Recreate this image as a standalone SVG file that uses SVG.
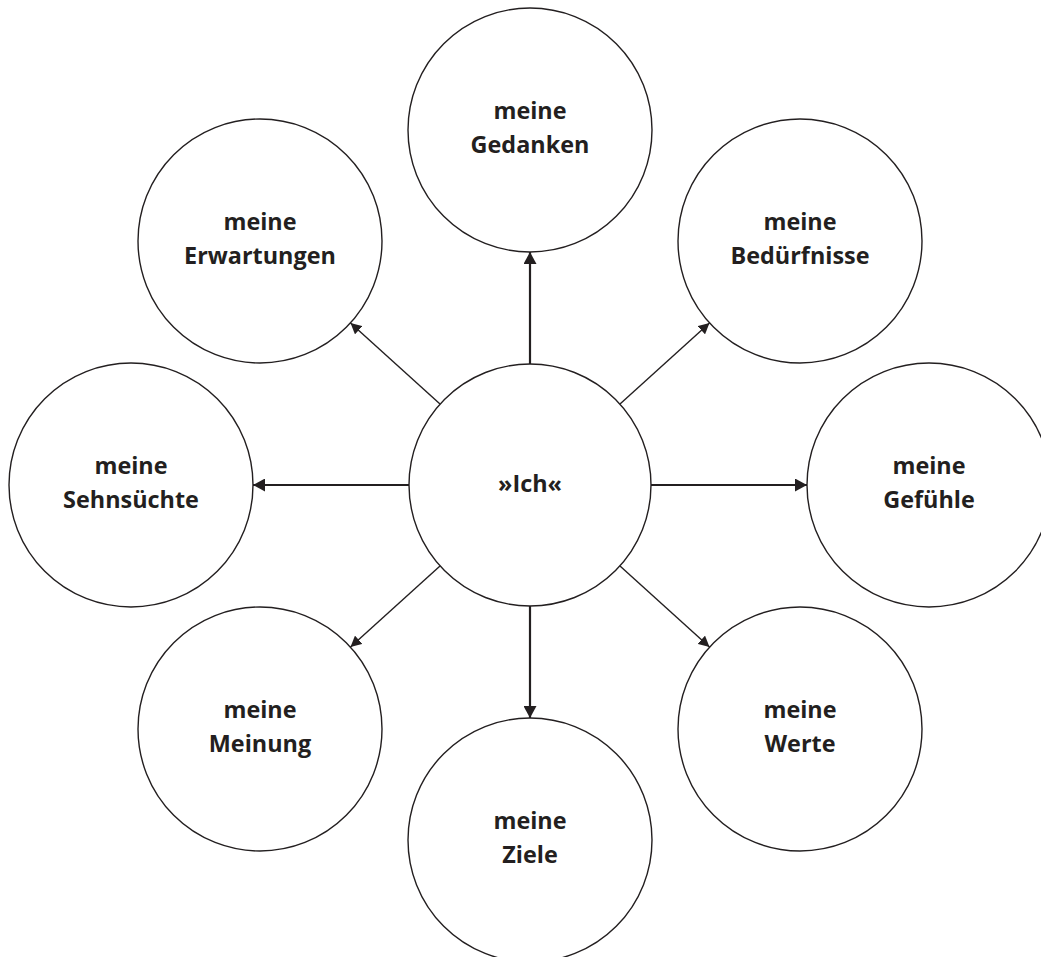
<svg xmlns="http://www.w3.org/2000/svg" width="1041" height="957" viewBox="0 0 1041 957">
<defs>
<style>
.node circle{fill:#fff;stroke:#231f20;stroke-width:1.4}
.node text{font-family:"Open Sans","Noto Sans","DejaVu Sans",sans-serif;font-weight:700;font-size:23.4px;fill:#231f20;text-anchor:middle}
.conn line{stroke:#231f20;fill:none}
.ortho{stroke-width:2.2}
.diag{stroke-width:1.4}
</style>
<marker id="ah" viewBox="0 0 12 13" markerWidth="12" markerHeight="13" refX="12" refY="6.5" orient="auto" markerUnits="userSpaceOnUse">
<path d="M0,0 L12,6.5 L0,13 Z" fill="#231f20"/>
</marker>
<marker id="ahs" viewBox="0 0 12 12" markerWidth="11" markerHeight="11" refX="12" refY="6" orient="auto" markerUnits="userSpaceOnUse">
<path d="M0,0 L12,6 L0,12 Z" fill="#231f20"/>
</marker>
</defs>
<rect width="1041" height="957" fill="#fff"/>
<g id="connectors" class="conn">
<line class="ortho" x1="530" y1="364" x2="530" y2="252" marker-end="url(#ah)"/>
<line class="ortho" x1="530" y1="606" x2="530" y2="718" marker-end="url(#ah)"/>
<line class="ortho" x1="651" y1="485" x2="807" y2="485" marker-end="url(#ah)"/>
<line class="ortho" x1="409" y1="485" x2="253" y2="485" marker-end="url(#ah)"/>
<line class="diag" x1="620" y1="404" x2="709.5" y2="322.9" marker-end="url(#ahs)"/>
<line class="diag" x1="620" y1="566" x2="709.5" y2="647.1" marker-end="url(#ahs)"/>
<line class="diag" x1="440" y1="566" x2="350.5" y2="647.1" marker-end="url(#ahs)"/>
<line class="diag" x1="440" y1="404" x2="350.5" y2="322.9" marker-end="url(#ahs)"/>
</g>
<g id="ich" class="node"><circle cx="530" cy="485" r="121"/><text x="530" y="492">»Ich«</text></g>
<g id="gedanken" class="node"><circle cx="530" cy="130" r="122"/><text x="530" y="119">meine</text><text x="530" y="153">Gedanken</text></g>
<g id="beduerfnisse" class="node"><circle cx="800" cy="241" r="122"/><text x="800" y="230">meine</text><text x="800" y="264">Bedürfnisse</text></g>
<g id="gefuehle" class="node"><circle cx="929" cy="485" r="122"/><text x="929" y="474">meine</text><text x="929" y="508">Gefühle</text></g>
<g id="werte" class="node"><circle cx="800" cy="729" r="122"/><text x="800" y="718">meine</text><text x="800" y="752">Werte</text></g>
<g id="ziele" class="node"><circle cx="530" cy="840" r="122"/><text x="530" y="829">meine</text><text x="530" y="863">Ziele</text></g>
<g id="meinung" class="node"><circle cx="260" cy="729" r="122"/><text x="260" y="718">meine</text><text x="260" y="752">Meinung</text></g>
<g id="sehnsuechte" class="node"><circle cx="131" cy="485" r="122"/><text x="131" y="474">meine</text><text x="131" y="508">Sehnsüchte</text></g>
<g id="erwartungen" class="node"><circle cx="260" cy="241" r="122"/><text x="260" y="230">meine</text><text x="260" y="264">Erwartungen</text></g>
</svg>
